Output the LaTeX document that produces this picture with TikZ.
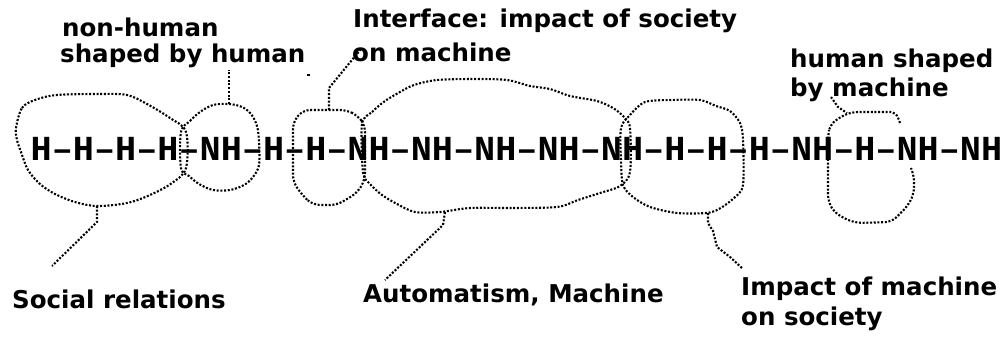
\documentclass[tikz,border=0pt]{standalone}
\usepackage{fontspec}
\newfontfamily\labelfont{DejaVu Sans}
\newfontfamily\chainfont{Liberation Mono}
\begin{document}
\begin{tikzpicture}[x=1pt,y=-1pt,
  dotline/.style={line width=2.1pt, dash pattern=on 2pt off 1.7pt},
  lbl/.style={anchor=base west, inner sep=0pt, font=\labelfont\bfseries\fontsize{24.5}{24.5}\selectfont},
  chainstyle/.style={anchor=base west, inner sep=0pt, font=\chainfont\bfseries\fontsize{35.2}{35.2}\selectfont}]
\useasboundingbox (0,0) rectangle (1005,337);

% the chain of H and NH units
\node[chainstyle] (chain) at (30.5,160)
  {H–H–H–H–NH–H–H–NH–NH–NH–NH–NH–H–H–H–NH–H–NH–NH};

% labels
\node[lbl] (nonhuman) at (62,37) {non-human};
\node[lbl] (shapedbyhuman) at (60,63) {shaped by human};
\node[lbl] (interface) at (353,28) {Interface: impact of society};
\node[lbl] (onmachine) at (352,62) {on machine};
\node[lbl] (humanshaped) at (790,67) {human shaped};
\node[lbl] (bymachine) at (790,97) {by machine};
\node[lbl] (social) at (12,308) {Social relations};
\node[lbl] (automatism) at (363,302) {Automatism, Machine};
\node[lbl] (impact) at (741,295) {Impact of machine};
\node[lbl] (onsociety) at (741,325) {on society};

% loop round the human units on the left
\draw[dotline] plot[smooth cycle, tension=0.55] coordinates {
  (16,128) (22,108) (35,100) (57,95) (100,94) (127,95) (147,104) (170,118)
  (186,132) (186,168) (172,183) (150,195) (127,203) (97,206) (75,202)
  (55,194) (40,184) (28,170) (21,152) (17,140)};
% loop round the single NH
\draw[dotline] plot[smooth cycle, tension=0.55] coordinates {
  (181,132) (190,121) (200,112) (213,105) (229,104) (242,107) (251,114)
  (257,126) (259,142) (259,165) (253,177) (244,185) (230,190) (213,190)
  (199,184) (189,176) (181,168)};
% interface loop
\draw[dotline, rounded corners=7pt] (293,122) -- (303,110) -- (347,110) -- (358,116)
  -- (365,125) -- (365,180) -- (357,193) -- (337,205) -- (313,205) -- (303,196)
  -- (293,182) -- cycle;
% large loop round the machine units
\draw[dotline] plot[smooth cycle, tension=0.5] coordinates {
  (362,124) (372,112) (385,101) (400,92) (414,85) (437,80) (475,79) (507,80)
  (530,86) (550,89) (570,96) (597,101) (613,108) (624,117) (630,128)
  (630,172) (620,186) (600,193) (578,200) (557,207) (510,208) (470,208)
  (440,212) (415,212) (397,204) (382,195) (370,184) (363,172)};
% loop round the human units after the machine
\draw[dotline] plot[smooth cycle, tension=0.5] coordinates {
  (621,128) (630,115) (645,102) (672,100) (700,100) (716,106) (730,111)
  (740,123) (743,140) (743,185) (734,198) (719,209) (706,213) (677,213)
  (650,207) (633,197) (623,185) (621,160)};
% open loop on the right
\draw[dotline, rounded corners=6pt] (900,123) -- (896,112) -- (852,112) -- (840,117)
  -- (830,125) -- (828,136) -- (828,200) -- (833,211) -- (845,219) -- (857,223)
  -- (891,222) -- (900,214) -- (909,204) -- (914,193) -- (914,176) -- (911,168);

% leaders from the loops to their labels
\coordinate (l1a) at (97,206);  \coordinate (l1b) at (52,266);
\draw[dotline] (l1a) -- (97,222) -- (l1b);
\coordinate (l2a) at (229,104); \coordinate (l2b) at (229,70);
\draw[dotline] (l2a) -- (l2b);
\coordinate (l3a) at (329,110); \coordinate (l3b) at (361,49);
\draw[dotline] (l3a) -- (329,88) -- (l3b);
\coordinate (l4a) at (445,212); \coordinate (l4b) at (385,280);
\draw[dotline] (l4a) -- (443,225) -- (l4b);
\coordinate (l5a) at (708,213); \coordinate (l5b) at (742,268);
\draw[dotline] (l5a) -- (708,223) -- (713,231) -- (717,247) -- (730,257) -- (l5b);
\coordinate (l6a) at (831,97); \coordinate (l6b) at (847,113);
\draw[dotline] (l6a) -- (838,107) -- (l6b);

% stray pixel after "human"
\fill (307,74) rectangle (309.5,76.5);
\end{tikzpicture}
\end{document}
